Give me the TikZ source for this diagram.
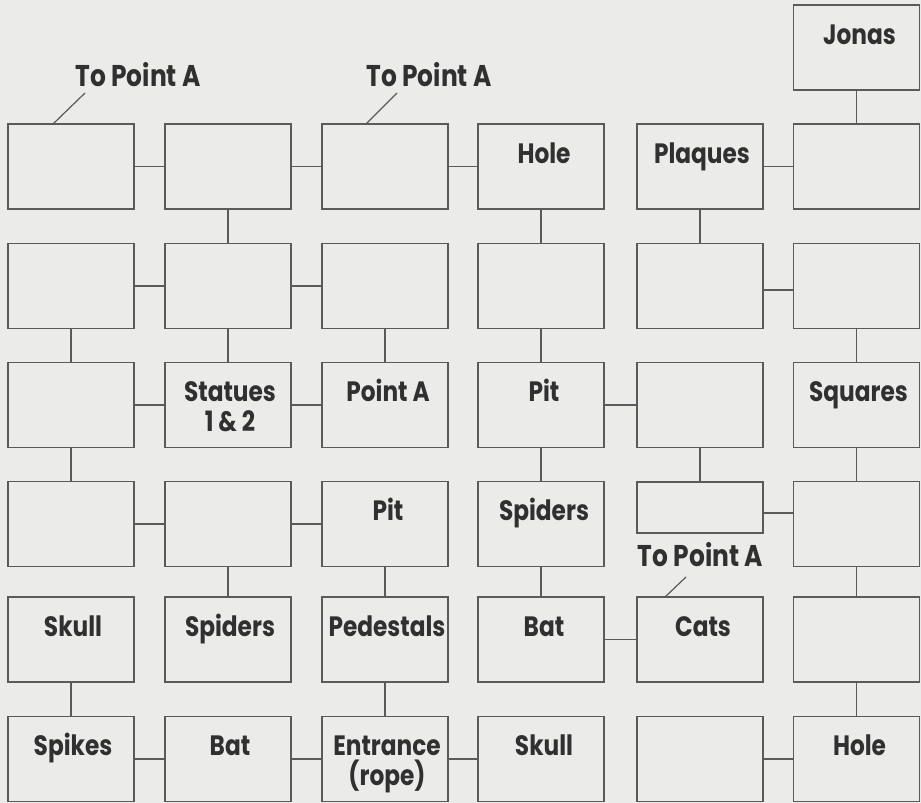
\documentclass[tikz,border=0pt]{standalone}
\usepackage{fontspec}
\newfontfamily\labfont{Poppins}[FakeStretch=0.83]
\definecolor{bgc}{HTML}{EBEBEA}
\definecolor{linec}{HTML}{5A5A5A}
\definecolor{textc}{HTML}{303030}
\begin{document}
\begin{tikzpicture}[x=1pt,y=-1pt,
  box/.style={draw=linec,line width=1.2pt,rectangle,minimum width=126pt,minimum height=85pt,inner sep=0pt,outer sep=0pt},
  shortbox/.style={box,minimum height=51pt},
  lab/.style={text=textc,font=\labfont\bfseries\fontsize{28}{30}\selectfont,align=center,anchor=base,inner sep=0pt},
  biglab/.style={lab,font=\labfont\bfseries\fontsize{30}{32}\selectfont},
  conn/.style={draw=linec,line width=1.2pt}]
\useasboundingbox (0,0) rectangle (921,803);
\fill[bgc] (0,0) rectangle (921,803);
% boxes
\foreach \r/\y in {1/166.5,2/286,3/405,5/639.5,6/759}{
  \foreach \c/\x in {1/71,2/228,3/385,4/541,5/700,6/856.5}{
    \node[box] (r\r c\c) at (\x,\y) {};
  }
}
\foreach \c/\x in {1/71,2/228,3/385,4/541,6/856.5}{
  \node[box] (r4c\c) at (\x,524) {};
}
\node[shortbox] (r4c5) at (700,507.5) {};
\node[box] (jonas) at (856.5,47.5) {};
% labels
\node[lab] (ljonas) at ([xshift=3pt,yshift=-39pt]jonas.north) {Jonas};
\node[lab] (l1c4) at ([xshift=3pt,yshift=-39pt]r1c4.north) {Hole};
\node[lab] (l1c5) at ([xshift=2pt,yshift=-39pt]r1c5.north) {Plaques};
\node[lab] (l3c2) at ([xshift=2pt,yshift=-69pt]r3c2.north) {Statues\\1 \& 2};
\node[lab] (l3c3) at ([xshift=3pt,yshift=-39pt]r3c3.north) {Point A};
\node[lab] (l3c4) at ([xshift=3pt,yshift=-39pt]r3c4.north) {Pit};
\node[lab] (l3c6) at ([xshift=2pt,yshift=-39pt]r3c6.north) {Squares};
\node[lab] (l4c3) at ([xshift=3pt,yshift=-39pt]r4c3.north) {Pit};
\node[lab] (l4c4) at ([xshift=3pt,yshift=-39pt]r4c4.north) {Spiders};
\node[lab] (l5c1) at ([xshift=2pt,yshift=-39pt]r5c1.north) {Skull};
\node[lab] (l5c2) at ([xshift=2pt,yshift=-39pt]r5c2.north) {Spiders};
\node[lab] (l5c3) at ([xshift=2pt,yshift=-39pt]r5c3.north) {Pedestals};
\node[lab] (l5c4) at ([xshift=3pt,yshift=-39pt]r5c4.north) {Bat};
\node[lab] (l5c5) at ([xshift=3pt,yshift=-39pt]r5c5.north) {Cats};
\node[lab] (l6c1) at ([xshift=2pt,yshift=-39pt]r6c1.north) {Spikes};
\node[lab] (l6c2) at ([xshift=2pt,yshift=-39pt]r6c2.north) {Bat};
\node[lab] (l6c3) at ([xshift=2pt,yshift=-69pt]r6c3.north) {Entrance\\(rope)};
\node[lab] (l6c4) at ([xshift=3pt,yshift=-39pt]r6c4.north) {Skull};
\node[lab] (l6c6) at ([xshift=3pt,yshift=-39pt]r6c6.north) {Hole};
% To Point A labels
\node[biglab] (tpa1) at (138,86.7) {To Point A};
\node[biglab] (tpa2) at (429,86.7) {To Point A};
\node[biglab] (tpa3) at (700.5,566.7) {To Point A};
\coordinate (t1) at (85,93);
\coordinate (t2) at (397,93);
\coordinate (t3) at (686,577);
\draw[conn] (t1) -- ([xshift=45pt]r1c1.north west);
\draw[conn] (t2) -- ([xshift=44pt]r1c3.north west);
\draw[conn] (t3) -- ([xshift=28pt]r5c5.north west);
% horizontal connectors
\foreach \r/\a/\b in {1/1/2,1/2/3,1/3/4,1/5/6,2/1/2,2/2/3,3/1/2,3/2/3,3/4/5,4/1/2,4/2/3,5/4/5,6/1/2,6/2/3,6/3/4,6/5/6}{
  \draw[conn] (r\r c\a.east) -- (r\r c\b.west);
}
\draw[conn] ([yshift=-4pt]r2c5.east) -- ([yshift=-4pt]r2c6.west);
\draw[conn] ([yshift=-5.5pt]r4c5.east) -- ([yshift=-5.5pt]r4c5.east -| r4c6.west);
% vertical connectors
\draw[conn] (jonas.south) -- (r1c6.north);
\foreach \c/\a/\b in {2/1/2,4/1/2,5/1/2,1/2/3,2/2/3,3/2/3,4/2/3,6/2/3,1/3/4,4/3/4,5/3/4,6/3/4,2/4/5,3/4/5,4/4/5,6/4/5,1/5/6,3/5/6,6/5/6}{
  \draw[conn] (r\a c\c.south) -- (r\b c\c.north);
}
\end{tikzpicture}
\end{document}
